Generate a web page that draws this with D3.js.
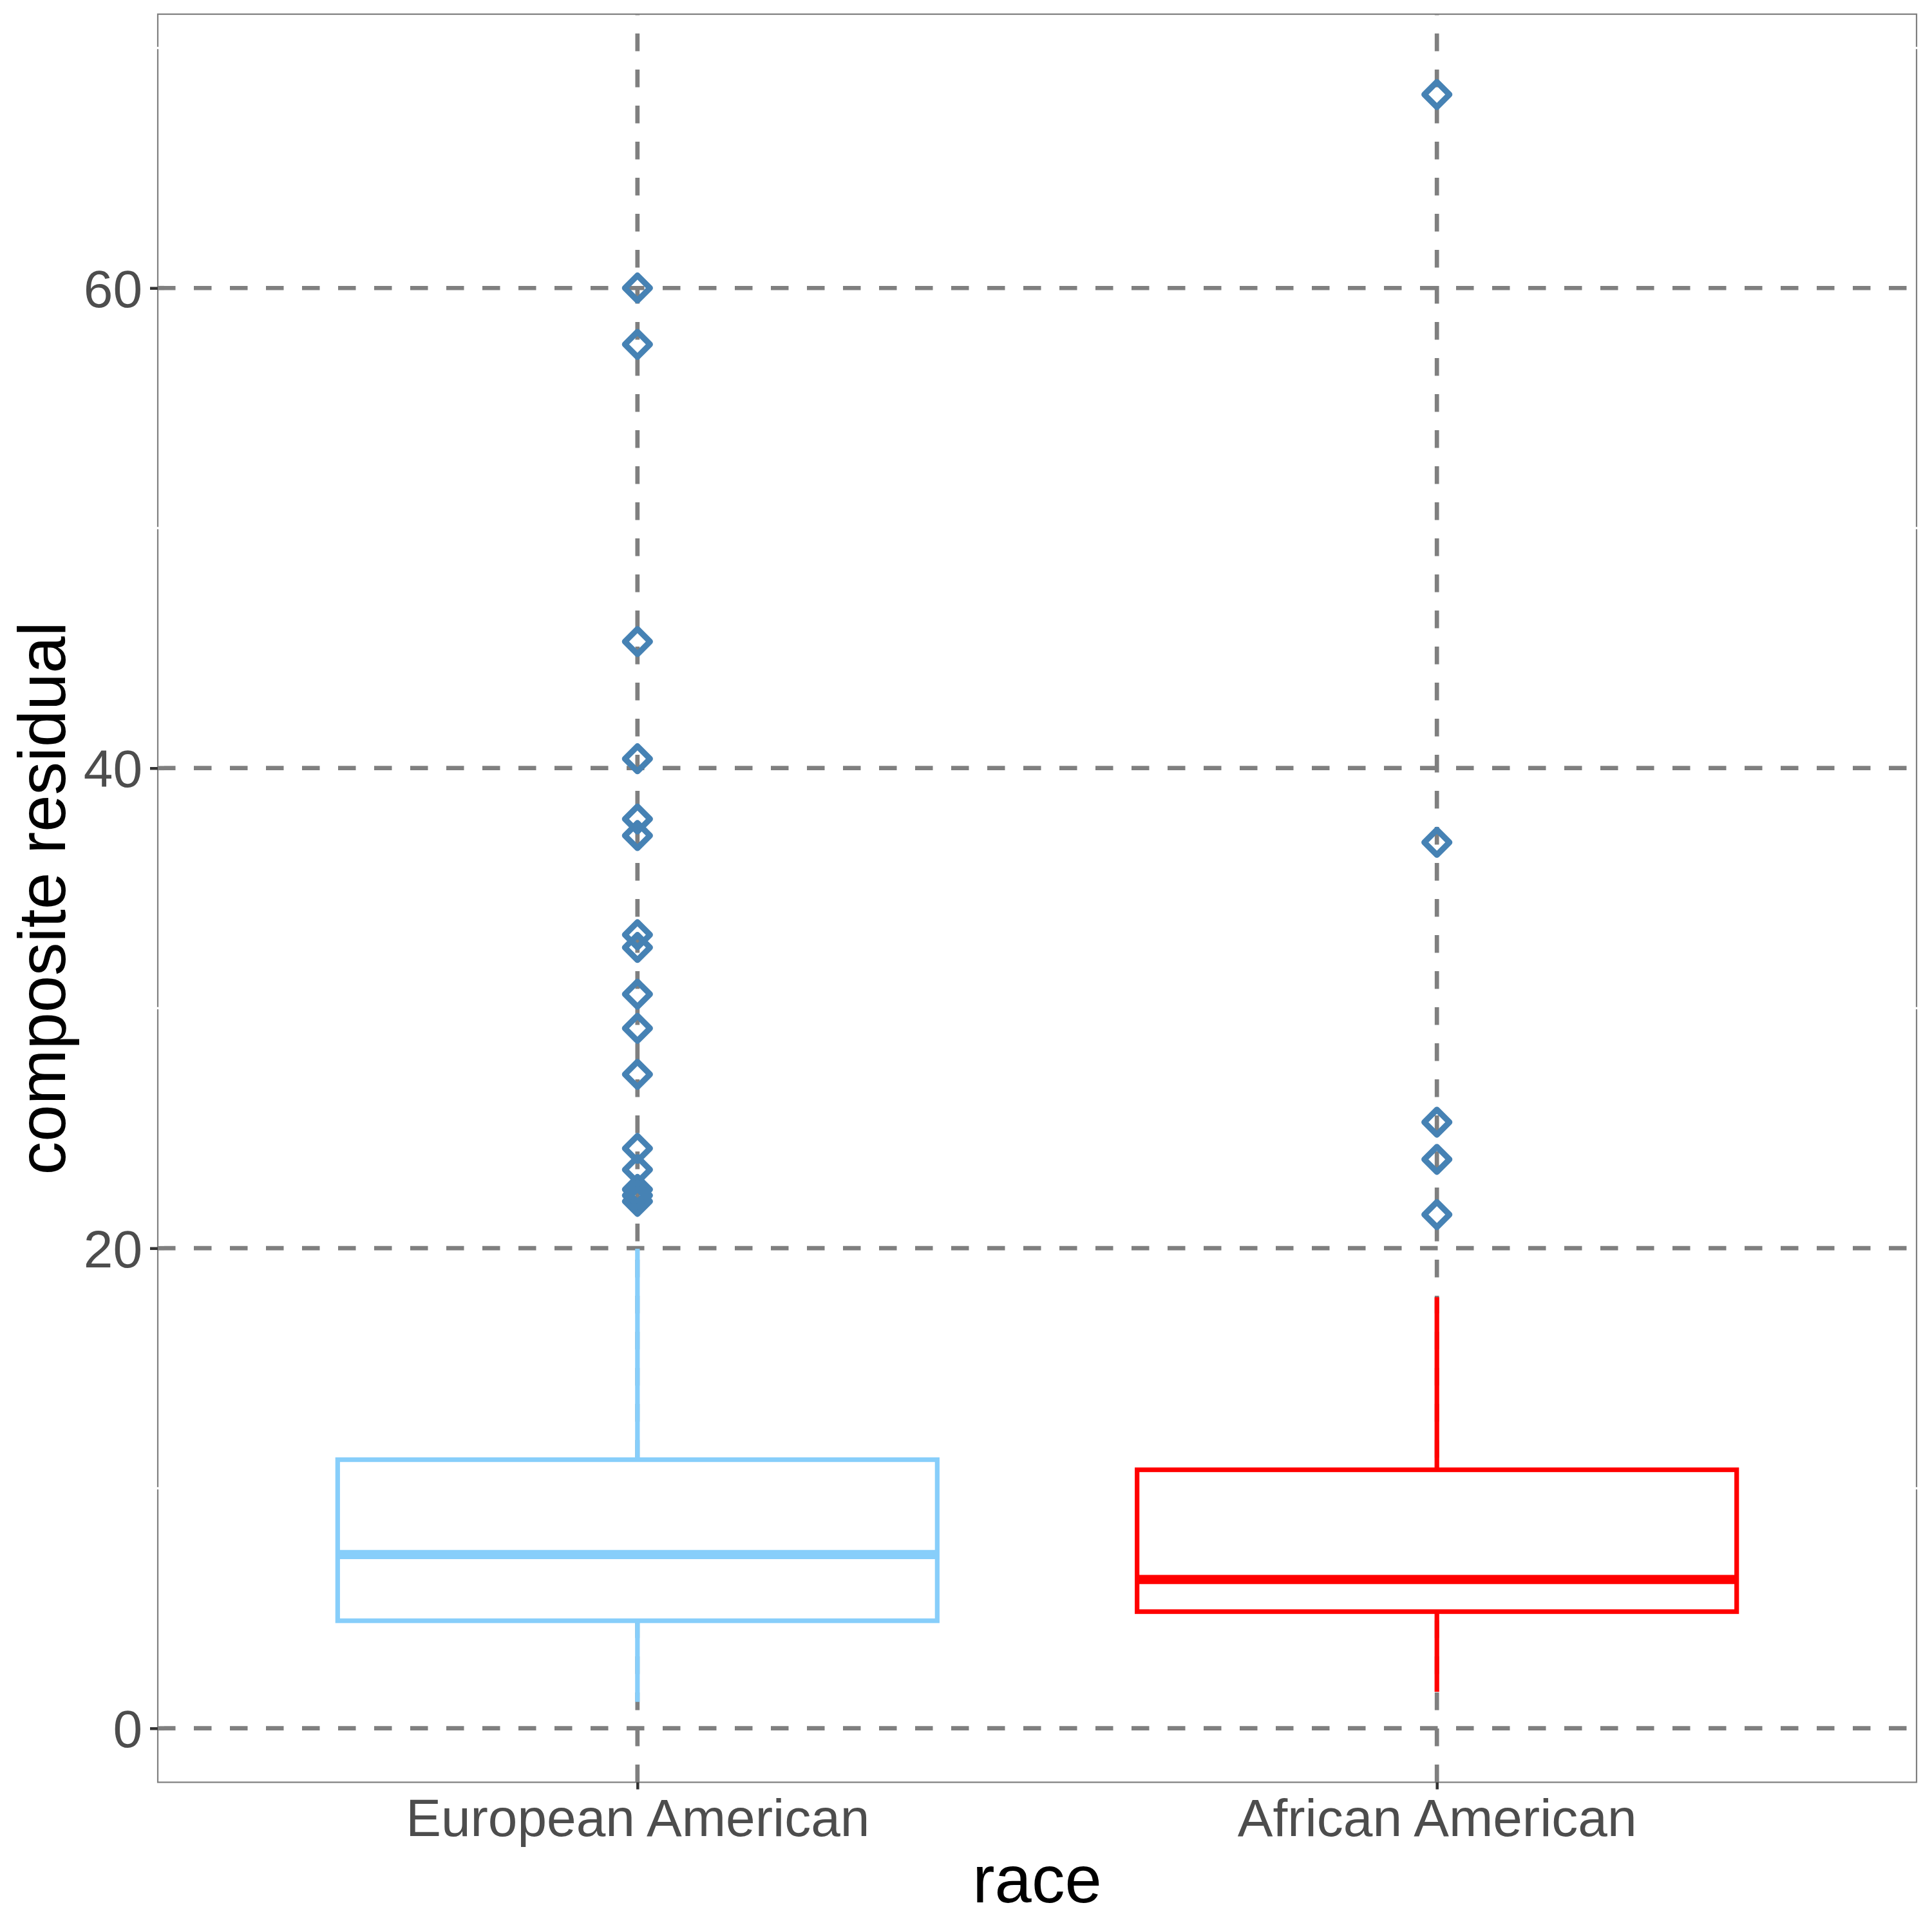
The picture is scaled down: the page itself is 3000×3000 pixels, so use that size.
<!DOCTYPE html>
<html>
<head>
<meta charset="utf-8">
<script src="https://cdn.jsdelivr.net/npm/d3@7/dist/d3.min.js"></script>
<style>
  html, body { margin: 0; padding: 0; background: #ffffff; }
  svg { display: block; }
</style>
</head>
<body>
<svg id="chart" width="3000" height="3000"></svg>
<script>
// ---------------- data ----------------
const categories = ["European American", "African American"];
const boxColors = ["#87CEFA", "#FF0000"];
const whiskerLow  = [1.10, 1.52];
const q1          = [4.48, 4.86];
const median      = [7.24, 6.20];
const q3          = [11.19, 10.77];
const whiskerHigh = [19.98, 17.96];
const outliersEA = [60.0, 57.65, 45.27, 40.39, 37.88, 37.19, 33.06, 32.53, 30.58, 29.16, 27.24, 24.16, 23.27, 22.45, 22.2, 21.95];
const outliersAA = [68.06, 36.91, 25.25, 23.70, 21.40];
const outliers = [outliersEA, outliersAA];
const yTicks = [0, 20, 40, 60];
const yMinorTicks = [10, 30, 50, 70];
const xTitle = "race";
const yTitle = "composite residual";

// ---------------- layout ----------------
const W = 3000, H = 3000;
const panel = { left: 245, right: 2976, top: 22, bottom: 2767.5 };
const font = "'Liberation Sans', Arial, Helvetica, sans-serif";
const gridColor = "#7F7F7F";
const outlierColor = "#4682B4";

const svg = d3.select("#chart");
svg.append("rect").attr("width", W).attr("height", H).attr("fill", "#ffffff");

// scales
const allVals = [].concat(whiskerLow, whiskerHigh, outliersEA, outliersAA);
const lo = d3.min(allVals), hi = d3.max(allVals);
const pad = (hi - lo) * 0.05;
const y = d3.scaleLinear().domain([lo - pad, hi + pad]).range([panel.bottom, panel.top]);
const x = d3.scalePoint().domain(categories).range([panel.left, panel.right]).padding(0.6);
const step = x.step();
const boxHalf = step * 0.375;

// panel background + border
svg.append("rect")
  .attr("x", panel.left).attr("y", panel.top)
  .attr("width", panel.right - panel.left).attr("height", panel.bottom - panel.top)
  .attr("fill", "#ffffff").attr("stroke", gridColor).attr("stroke-width", 2.2);

// minor grid (white)
svg.append("g").selectAll("line").data(yMinorTicks).join("line")
  .attr("x1", panel.left - 2).attr("x2", panel.right + 2)
  .attr("y1", d => y(d)).attr("y2", d => y(d))
  .attr("stroke", "#ffffff").attr("stroke-width", 3.4);

// major grid, dashed
const grid = svg.append("g");
grid.selectAll("line.h").data(yTicks).join("line").attr("class", "h")
  .attr("x1", panel.left).attr("x2", panel.right)
  .attr("y1", d => y(d)).attr("y2", d => y(d))
  .attr("stroke", gridColor).attr("stroke-width", 6.7)
  .attr("stroke-dasharray", "27.5,28.5");
grid.selectAll("line.v").data(categories).join("line").attr("class", "v")
  .attr("x1", d => x(d)).attr("x2", d => x(d))
  .attr("y1", panel.bottom).attr("y2", panel.top)
  .attr("stroke", gridColor).attr("stroke-width", 6.7)
  .attr("stroke-dasharray", "27.5,28.5");

// boxplots
const boxes = svg.append("g");
categories.forEach((c, i) => {
  const cx = x(c);
  const g = boxes.append("g");
  const col = boxColors[i];
  const lw = 7.2;
  // whiskers
  g.append("line").attr("x1", cx).attr("x2", cx)
    .attr("y1", y(q3[i])).attr("y2", y(whiskerHigh[i]))
    .attr("stroke", col).attr("stroke-width", lw);
  g.append("line").attr("x1", cx).attr("x2", cx)
    .attr("y1", y(q1[i])).attr("y2", y(whiskerLow[i]))
    .attr("stroke", col).attr("stroke-width", lw);
  // box
  g.append("rect")
    .attr("x", cx - boxHalf).attr("y", y(q3[i]))
    .attr("width", boxHalf * 2).attr("height", y(q1[i]) - y(q3[i]))
    .attr("fill", "#ffffff").attr("stroke", col).attr("stroke-width", lw)
    .attr("stroke-linejoin", "miter");
  // median
  g.append("line")
    .attr("x1", cx - boxHalf).attr("x2", cx + boxHalf)
    .attr("y1", y(median[i])).attr("y2", y(median[i]))
    .attr("stroke", col).attr("stroke-width", lw * 2);
});

// outliers (open diamonds)
const sym = d3.symbol().type(d3.symbolSquare).size(761);
const pts = svg.append("g");
categories.forEach((c, i) => {
  pts.selectAll(null).data(outliers[i]).join("path")
    .attr("d", sym)
    .attr("transform", d => `translate(${x(c)},${y(d)}) rotate(45)`)
    .attr("fill", "none")
    .attr("stroke", outlierColor)
    .attr("stroke-width", 9.2)
    .attr("stroke-linejoin", "round");
});

// y axis
const yAxis = svg.append("g")
  .attr("transform", `translate(${panel.left},0)`)
  .call(d3.axisLeft(y).tickValues(yTicks).tickSize(12).tickPadding(12).tickFormat(d3.format("d")));
yAxis.select(".domain").remove();
yAxis.selectAll(".tick line").attr("stroke", "#333333").attr("stroke-width", 4.5);
yAxis.selectAll(".tick text")
  .attr("font-family", font).attr("font-size", 82).attr("fill", "#4D4D4D")
  .attr("dy", "0.355em");

// x axis
const xAxis = svg.append("g")
  .attr("transform", `translate(0,${panel.bottom})`)
  .call(d3.axisBottom(x).tickSize(11).tickPadding(14));
xAxis.select(".domain").remove();
xAxis.selectAll(".tick line").attr("stroke", "#333333").attr("stroke-width", 4.5);
xAxis.selectAll(".tick text")
  .attr("font-family", font).attr("font-size", 82).attr("fill", "#4D4D4D")
  .attr("dy", "0.71em");

// axis titles
svg.append("text")
  .attr("x", (panel.left + panel.right) / 2).attr("y", 2954)
  .attr("text-anchor", "middle")
  .attr("font-family", font).attr("font-size", 103).attr("fill", "#000000")
  .text(xTitle);
svg.append("text")
  .attr("transform", `translate(101,${(panel.top + panel.bottom) / 2}) rotate(-90)`)
  .attr("text-anchor", "middle")
  .attr("font-family", font).attr("font-size", 103).attr("fill", "#000000")
  .text(yTitle);
</script>
</body>
</html>
